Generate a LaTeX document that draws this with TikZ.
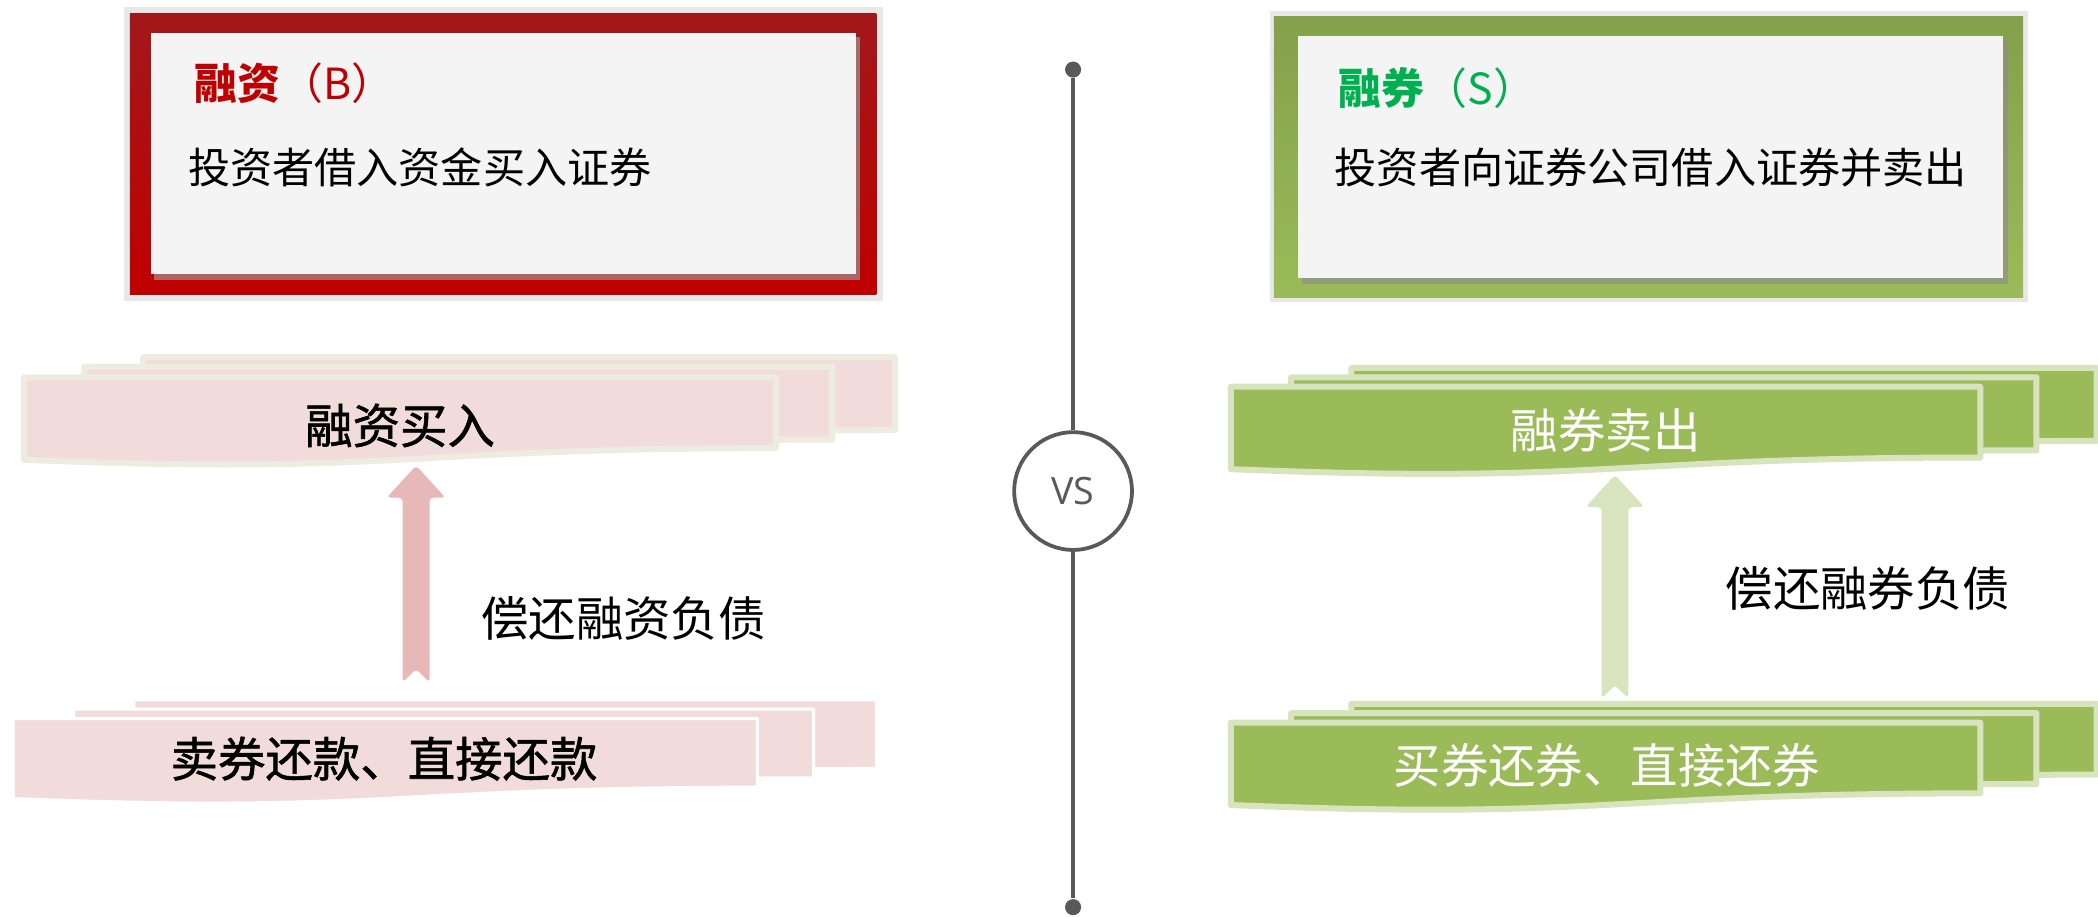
\documentclass[tikz,border=0pt]{standalone}
\usepackage{fontspec}
\newfontfamily\cjk{Noto Sans CJK SC}
\newfontfamily\cjkm[FakeBold=1.2]{Noto Sans CJK SC}
\newfontfamily\vsfont{Open Sans}
\usetikzlibrary{calc}
\definecolor{redframe}{HTML}{C00000}
\definecolor{redtop}{HTML}{A3171B}
\definecolor{pinkfill}{HTML}{F2DCDB}
\definecolor{beige}{HTML}{EEECE1}
\definecolor{pinkarrow}{HTML}{E6B9B8}
\definecolor{greenfill}{HTML}{9BBB59}
\definecolor{greenlight}{HTML}{D7E4BD}
\definecolor{greentop}{HTML}{84A04B}
\definecolor{greentitle}{HTML}{00B050}
\definecolor{panel}{HTML}{F4F4F4}
\definecolor{vsgray}{HTML}{595959}
\newcommand{\docshape}[5]{%
  \filldraw[#1] (#2,#3) -- ({#2+#4},#3) -- ({#2+#4},{#3+0.802*#5})
    .. controls ({#2+0.5*#4},{#3+0.802*#5}) and ({#2+0.5*#4},{#3+1.107*#5}) ..
    (#2,{#3+0.934*#5}) -- cycle;}
\tikzset{
  pinkdoc/.style={fill=pinkfill,draw=beige,line width=1.6pt,line join=round},
  pinkdocb/.style={fill=pinkfill,draw=white,line width=0.8pt,line join=round},
  greendoc/.style={fill=greenfill,draw=greenlight,line width=1.6pt,line join=round},
  bannertext/.style={font=\cjk\fontsize{12.6}{15}\selectfont,inner sep=0pt},
  boldbanner/.style={font=\cjkm\fontsize{12.6}{15}\selectfont,inner sep=0pt},
  bodytext/.style={font=\cjk\fontsize{11.2}{13}\selectfont,anchor=west,inner sep=0pt},
  titletext/.style={font=\cjk\fontsize{11.4}{13}\selectfont,anchor=west,inner sep=0pt},
  dot/.style={circle,fill=vsgray,inner sep=0pt,minimum size=12*0.0125cm},
}
\begin{document}
\begin{tikzpicture}[x=0.0125cm,y=-0.0125cm]
\useasboundingbox (0,0) rectangle (1568,685);
% ---------- left top box ----------
\fill[black!9] (93,5) rectangle (660,225);
\fill[top color=redtop,bottom color=redframe] (97,10) rectangle (655,220);
\fill[black!35,opacity=0.6] (115,28) rectangle (643,209);
\fill[panel] (113,25) rectangle (640,205);
\node[titletext,text=redframe] (ltitle) at (145,62) {\textbf{融资}（B）};
\node[bodytext] (lbody) at (140,125) {投资者借入资金买入证券};
% ---------- right top box ----------
\fill[black!9] (949,8) rectangle (1516,226);
\fill[top color=greentop,bottom color=greenfill] (952,12) rectangle (1512,222);
\fill[black!45,opacity=0.6] (973,31) rectangle (1501,212);
\fill[panel] (970,27) rectangle (1497,208);
\node[titletext,text=greentitle] (rtitle) at (1000,66) {\textbf{融券}（S）};
\node[bodytext] (rbody) at (997,125) {投资者向证券公司借入证券并卖出};
% ---------- VS divider ----------
\node[dot] (dtop) at (802,52) {};
\node[dot] (dbot) at (802,678) {};
\node[circle,draw=vsgray,line width=1pt,minimum size=88*0.0125cm,inner sep=0pt,
      font=\vsfont\fontsize{10}{12}\selectfont,text=vsgray] (vs) at (802,367) {VS};
\draw[vsgray,line width=1.1pt] (dtop) -- (vs);
\draw[vsgray,line width=1.1pt] (vs) -- (dbot);
% ---------- left banners ----------
\docshape{pinkdoc}{107}{267}{562}{68}
\docshape{pinkdoc}{63}{274}{559}{68}
\docshape{pinkdoc}{18}{282}{562}{66}
\node[boldbanner] (lbuy) at (299,318) {融资买入};
\docshape{pinkdocb}{100}{523}{555}{64}
\docshape{pinkdocb}{55}{530}{553}{64}
\docshape{pinkdocb}{10}{537}{556}{64}
\node[boldbanner] (lrepay) at (287,567) {卖券还款、直接还款};
\coordinate (latip) at (311,348);
\coordinate (laend) at (311,510);
\fill[pinkarrow,rounded corners=1pt] (latip) -- ($(latip)+(22,24)$) -- ($(latip)+(10,24)$) -- ($(laend)+(10,0)$)
  -- ($(laend)+(0,-10)$) -- ($(laend)+(-10,0)$) -- ($(latip)+(-10,24)$) -- ($(latip)+(-22,24)$) -- cycle;
\node[bannertext] (llabel) at (466,462) {偿还融资负债};
% ---------- right banners ----------
\docshape{greendoc}{1010}{275}{557}{68}
\docshape{greendoc}{965}{282}{557}{68}
\docshape{greendoc}{920}{289}{560}{66}
\node[bannertext,text=white] (rsell) at (1200,322) {融券卖出};
\docshape{greendoc}{1010}{526}{557}{66}
\docshape{greendoc}{965}{533}{557}{66}
\docshape{greendoc}{920}{540}{560}{66}
\node[bannertext,text=white] (rrepay) at (1201,572) {买券还券、直接还券};
\coordinate (ratip) at (1207,355);
\coordinate (raend) at (1207,522);
\fill[greenlight,rounded corners=1pt] (ratip) -- ($(ratip)+(22,24)$) -- ($(ratip)+(10,24)$) -- ($(raend)+(10,0)$)
  -- ($(raend)+(0,-10)$) -- ($(raend)+(-10,0)$) -- ($(ratip)+(-10,24)$) -- ($(ratip)+(-22,24)$) -- cycle;
\node[bannertext] (rlabel) at (1396,440) {偿还融券负债};
\end{tikzpicture}
\end{document}
